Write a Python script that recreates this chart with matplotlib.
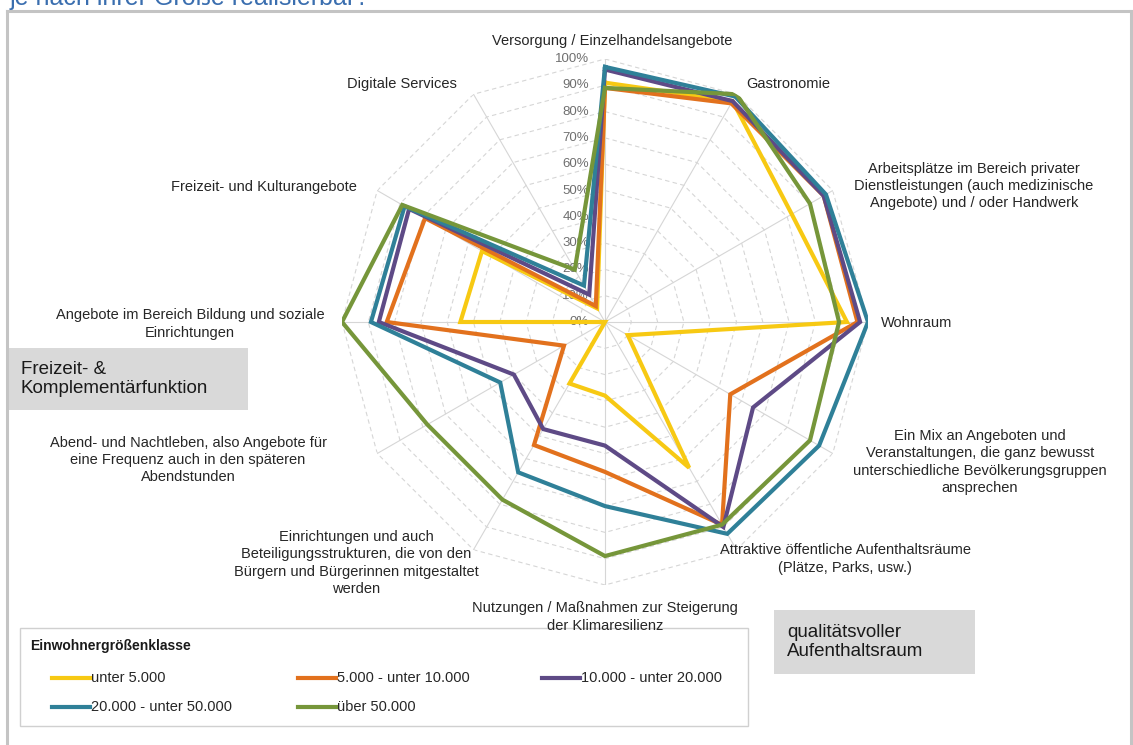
import numpy as np
import matplotlib
matplotlib.use("Agg")
import matplotlib.pyplot as plt
from matplotlib.lines import Line2D
from matplotlib.patches import Rectangle

plt.rcParams["font.family"] = ["Liberation Sans", "DejaVu Sans"]

W, H = 1133, 745  # Bildgröße in Pixel (dpi 100)

kategorien = [
    "Versorgung / Einzelhandelsangebote",
    "Gastronomie",
    "Arbeitsplätze im Bereich privater\nDienstleistungen (auch medizinische\nAngebote) und / oder Handwerk",
    "Wohnraum",
    "Ein Mix an Angeboten und\nVeranstaltungen, die ganz bewusst\nunterschiedliche Bevölkerungsgruppen\nansprechen",
    "Attraktive öffentliche Aufenthaltsräume\n(Plätze, Parks, usw.)",
    "Nutzungen / Maßnahmen zur Steigerung\nder Klimaresilienz",
    "Einrichtungen und auch\nBeteiligungsstrukturen, die von den\nBürgern und Bürgerinnen mitgestaltet\nwerden",
    "Abend- und Nachtleben, also Angebote für\neine Frequenz auch in den späteren\nAbendstunden",
    "Angebote im Bereich Bildung und soziale\nEinrichtungen",
    "Freizeit- und Kulturangebote",
    "Digitale Services",
]

klassen = ["unter 5.000", "5.000 - unter 10.000", "10.000 - unter 20.000",
           "20.000 - unter 50.000", "über 50.000"]

# Anteile in % je Kategorie (Reihenfolge wie kategorien)
unter_5k = [91, 97, 82, 92, 10, 64, 28, 27, 0, 55, 54, 6]
k5_bis_10k = [89, 96, 96, 96, 55, 89, 57, 54, 18, 83, 79, 7]
k10_bis_20k = [96, 97, 96, 97, 65, 90, 47, 47, 40, 86, 86, 12]
k20_bis_50k = [97, 99, 97, 100, 94, 93, 70, 66, 46, 89, 88, 16]
ueber_50k = [89, 100, 90, 89, 90, 89, 89, 78, 78, 100, 89, 23]
reihen = [unter_5k, k5_bis_10k, k10_bis_20k, k20_bis_50k, ueber_50k]

farben = ["#F7C913", "#E2711D", "#5E4A86", "#2F8098", "#76963A"]
ringe = list(range(0, 101, 10))


def fx(px):
    return px / W


def fy(py):
    return 1 - py / H


fig = plt.figure(figsize=(W / 100, H / 100), dpi=100)

# Rahmen und abgeschnittene Überschrift
rahmen = dict(color="#c4c4c4", lw=2.2, transform=fig.transFigure)
fig.add_artist(Line2D([fx(7), fx(1131)], [fy(11), fy(11)], **rahmen))
fig.add_artist(Line2D([fx(7), fx(7)], [fy(11), fy(745)], **rahmen))
fig.add_artist(Line2D([fx(1131), fx(1131)], [fy(11), fy(745)], **rahmen))
fig.text(fx(370), fy(5), "je nach ihrer Größe realisierbar?", ha="right",
         va="baseline", fontsize=18, color="#3A6EAF")

# Netzdiagramm, Mittelpunkt (605, 322), Radius 263 px
cx, cy, R = 605, 322, 263
ax = fig.add_axes([fx(cx - R), fy(cy + R), 2 * R / W, 2 * R / H], projection="polar")
ax.set_theta_zero_location("N")
ax.set_theta_direction(-1)
ax.set_ylim(0, 100)
ax.grid(False)
ax.set_xticks([])
ax.set_yticks([])
ax.spines["polar"].set_visible(False)
ax.patch.set_alpha(0)

theta = np.linspace(0, 2 * np.pi, len(kategorien), endpoint=False)
theta_zu = np.append(theta, theta[0])

for r in ringe[1:]:
    ax.plot(theta_zu, [r] * len(theta_zu), color="#d6d6d6", lw=0.8,
            ls=(0, (4, 3)), zorder=1)
for t in theta:
    ax.plot([t, t], [0, 100], color="#d6d6d6", lw=0.8, zorder=1)

for r in ringe:
    ax.annotate(f"{r}%", xy=(0, r), xytext=(-11.5, 0), textcoords="offset points",
                ha="right", va="center", fontsize=9.5, color="#6f6f6f")

for werte, farbe in zip(reihen, farben):
    ax.plot(theta_zu, werte + werte[:1], color=farbe, lw=3.0,
            solid_joinstyle="miter", zorder=3)

# Kategorienbeschriftungen (Mittelpunkt in Pixel)
label_pos = [
    (612, 41), (788, 84), (974, 186), (917, 323), (980, 462), (845, 559),
    (605, 617), (356, 563), (188, 460), (190, 324), (264, 187), (402, 84),
]
for text, (px, py) in zip(kategorien, label_pos):
    fig.text(fx(px), fy(py), text, ha="center", va="center", fontsize=10.5,
             color="#262626", linespacing=1.3)

# Graue Funktionskästen
for (x0, y0, x1, y1), text in [((8, 348, 248, 410), "Freizeit- &\nKomplementärfunktion"),
                               ((774, 610, 975, 674), "qualitätsvoller\nAufenthaltsraum")]:
    fig.add_artist(Rectangle((fx(x0), fy(y1)), (x1 - x0) / W, (y1 - y0) / H,
                             transform=fig.transFigure, facecolor="#d9d9d9",
                             edgecolor="none"))
    fig.text(fx(x0 + 13), fy((y0 + y1) / 2), text, ha="left", va="center",
             fontsize=13.5, color="#1a1a1a", linespacing=1.2)

# Legende
fig.add_artist(Rectangle((fx(20), fy(726)), (748 - 20) / W, (726 - 628) / H,
                         transform=fig.transFigure, facecolor="white",
                         edgecolor="#d0d0d0", lw=1))
fig.text(fx(30), fy(646), "Einwohnergrößenklasse", ha="left", va="center",
         fontsize=10, fontweight="bold", color="#1a1a1a")
spalten = [52, 298, 542, 52, 298]
zeilen = [678, 678, 678, 707, 707]
for name, farbe, px, py in zip(klassen, farben, spalten, zeilen):
    fig.add_artist(Line2D([fx(px), fx(px + 38)], [fy(py), fy(py)], color=farbe,
                          lw=3.0, transform=fig.transFigure))
    fig.text(fx(px + 39), fy(py), name, ha="left", va="center", fontsize=10.5,
             color="#262626")

fig.savefig("out.png", dpi=100)
